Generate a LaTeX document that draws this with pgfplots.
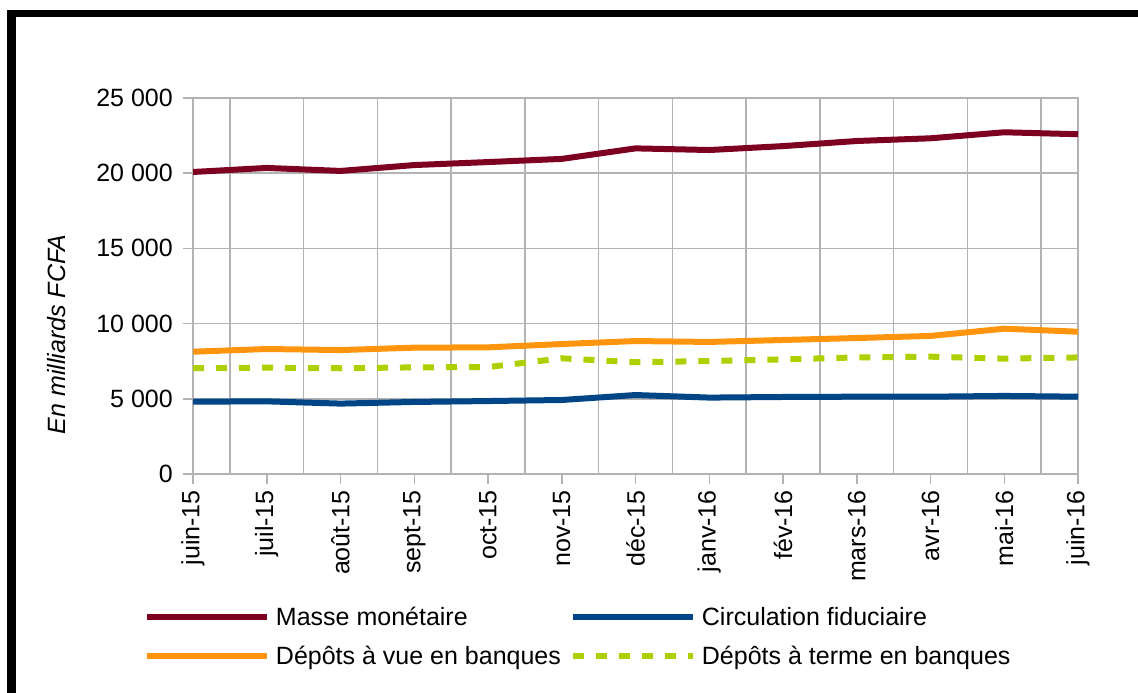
\documentclass[border=0pt]{standalone}
\usepackage{pgfplots}
\pgfplotsset{compat=1.18}
\usepackage{fontspec}
\setmainfont{Liberation Sans}
\definecolor{cMasse}{HTML}{7E0021}
\definecolor{cCirc}{HTML}{004586}
\definecolor{cVue}{HTML}{FF950E}
\definecolor{cTerme}{HTML}{AECF00}
\definecolor{gridgray}{HTML}{B3B3B3}
\begin{document}
\fontsize{25bp}{30bp}\selectfont
\begin{tikzpicture}[x=1bp,y=1bp]
\useasboundingbox (0,0) rectangle (1138,693);
\fill[black] (7,0) rectangle (16,683);
\fill[black] (7,676) rectangle (1138,683);
\begin{axis}[
  at={(193bp,219bp)}, anchor=south west,
  scale only axis, width=885bp, height=376bp,
  xmin=0, xmax=12, ymin=0, ymax=25000,
  scaled y ticks=false,
  xtick pos=bottom, ytick pos=left,
  xtick={0,1,...,12},
  xticklabels={juin-15,juil-15,août-15,sept-15,oct-15,nov-15,déc-15,janv-16,fév-16,mars-16,avr-16,mai-16,juin-16},
  minor xtick={0.5,1.5,...,11.5},
  xminorgrids=true, xmajorgrids=false, ymajorgrids=true,
  ytick={0,5000,10000,15000,20000,25000},
  yticklabels={0,5 000,10 000,15 000,20 000,25 000},
  tick align=outside, major tick length=10bp, minor tick length=0pt,
  axis line style={draw=gridgray, line width=1.5bp},
  major tick style={draw=gridgray, line width=1.5bp},
  minor tick style={draw=none},
  grid style={draw=gridgray, line width=1.5bp},
  tick label style={font=\fontsize{25bp}{30bp}\selectfont, inner sep=0pt},
  xticklabel style={rotate=90, anchor=east, xshift=-6bp},
  yticklabel style={anchor=east, xshift=-10bp},
  ylabel={\itshape En milliards FCFA},
  ylabel style={at={(axis description cs:-0.15367,0.371)}, anchor=center, inner sep=0pt, font=\fontsize{25bp}{30bp}\selectfont},
  legend columns=2,
  legend cell align=left,
  legend style={draw=none, fill=none, inner sep=0pt, outer sep=0pt,
    at={(axis description cs:-0.05537,-0.3443)}, anchor=north west,
    font=\fontsize{25bp}{30bp}\selectfont,
    nodes={inner sep=0pt, text height=22.5bp, text depth=4.6bp},
    row sep=11.9bp,
    /tikz/column 1/.style={column sep=6bp},
    /tikz/column 2/.style={column sep=9bp},
    /tikz/column 3/.style={column sep=6bp}},
  legend image code/.code={\draw[#1] (0bp,0bp) -- (120bp,0bp);},
]
\addplot[cMasse, line width=6bp, mark=none] coordinates {
(0,20080) (1,20350) (2,20150) (3,20540) (4,20740) (5,20950) (6,21650) (7,21540) (8,21800) (9,22140) (10,22320) (11,22720) (12,22590)};
\addlegendentry{Masse monétaire}
\addplot[cCirc, line width=6bp, mark=none] coordinates {
(0,4810) (1,4830) (2,4680) (3,4790) (4,4850) (5,4920) (6,5250) (7,5080) (8,5120) (9,5140) (10,5140) (11,5190) (12,5140)};
\addlegendentry{Circulation fiduciaire}
\addplot[cVue, line width=6bp, mark=none] coordinates {
(0,8130) (1,8310) (2,8240) (3,8400) (4,8420) (5,8640) (6,8840) (7,8780) (8,8910) (9,9040) (10,9180) (11,9660) (12,9460)};
\addlegendentry{Dépôts à vue en banques}
\addplot[cTerme, line width=6bp, mark=none, dash pattern=on 11bp off 12bp] coordinates {
(0,7030) (1,7070) (2,7030) (3,7090) (4,7110) (5,7690) (6,7430) (7,7510) (8,7620) (9,7750) (10,7800) (11,7670) (12,7750)};
\addlegendentry{Dépôts à terme en banques}
\end{axis}
\end{tikzpicture}
\end{document}
